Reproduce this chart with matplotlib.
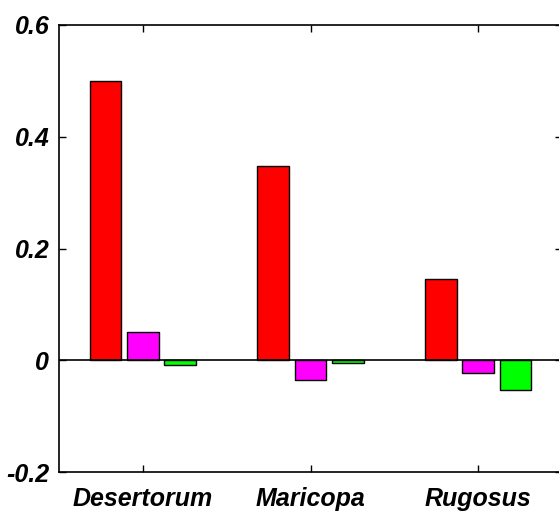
import numpy as np
import matplotlib
matplotlib.use("Agg")
import matplotlib.pyplot as plt

# values
species = ["Desertorum", "Maricopa", "Rugosus"]
red_vals = [0.50, 0.348, 0.146]
magenta_vals = [0.05, -0.036, -0.023]
green_vals = [-0.009, -0.005, -0.054]
yticks = [-0.2, 0, 0.2, 0.4, 0.6]
ytick_labels = ["-0.2", "0", "0.2", "0.4", "0.6"]

plt.rcParams['font.family'] = ['Liberation Sans', 'DejaVu Sans']

fig = plt.figure(figsize=(5.59, 5.22), dpi=100)
ax = fig.add_axes([59/559, 1-472/522, 503/559, 447/522])

x = np.arange(1, len(species)+1)
w = 0.19
off = 0.223
ax.bar(x-off, red_vals, w, color="#ff0000", edgecolor="black", linewidth=1)
ax.bar(x, magenta_vals, w, color="#ff00ff", edgecolor="black", linewidth=1)
ax.bar(x+off, green_vals, w, color="#00ff00", edgecolor="black", linewidth=1)
ax.axhline(0, color="black", linewidth=1.2)

ax.set_xlim(0.5, 3.5)
ax.set_ylim(-0.2, 0.6)
ax.set_xticks(x)
ax.set_xticklabels(species)
ax.set_yticks(yticks)
ax.set_yticklabels(ytick_labels)
ax.tick_params(direction="in", length=5, width=1, top=True, right=True,
               labelsize=18, pad=7)
ax.tick_params(axis="x", pad=11)
for lab in ax.get_xticklabels() + ax.get_yticklabels():
    lab.set_fontweight("bold")
    lab.set_fontstyle("italic")
for s in ax.spines.values():
    s.set_linewidth(1.2)

fig.savefig("out.png", dpi=100)
